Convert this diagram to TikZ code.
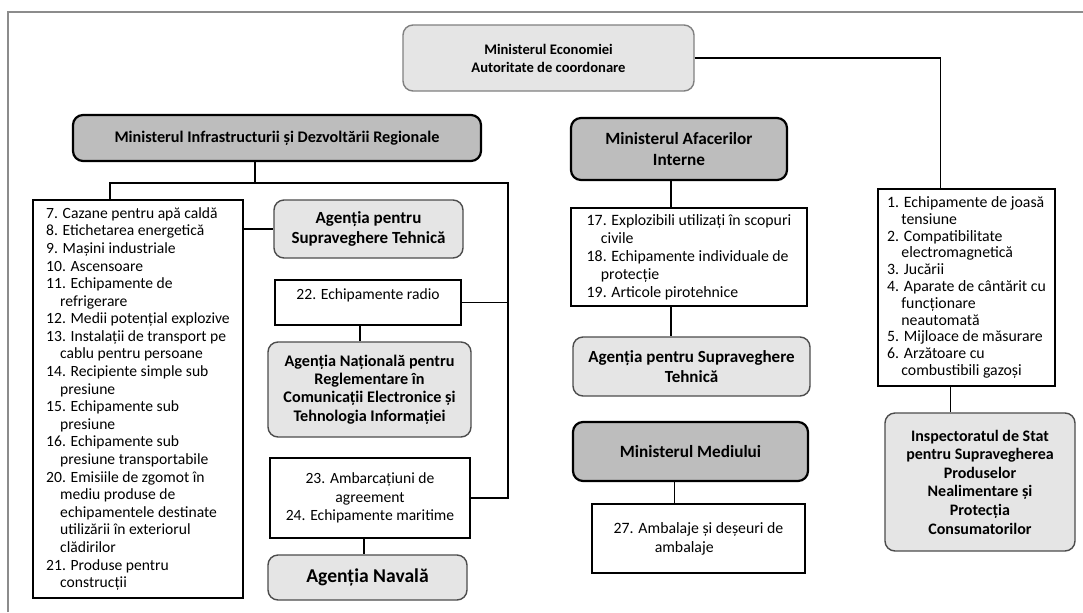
\documentclass[tikz,border=0pt]{standalone}
\usepackage{fontspec}
\setmainfont{Carlito}
\newcommand{\indt}{\hspace*{0.9em}}

\begin{document}
\begin{tikzpicture}[x=0.5pt, y=-0.5pt, line width=0.7pt]
    \tikzstyle{agency}=[draw=black!70, fill=black!10, rounded corners=5pt, align=center, inner sep=2pt, font=\fontsize{8.5}{10}\selectfont\bfseries]
    \tikzstyle{ministry}=[draw=black, line width=1.1pt, fill=black!26, rounded corners=5pt, align=center, inner sep=2pt, font=\fontsize{8.6}{10.4}\selectfont\bfseries]
    \tikzstyle{list}=[draw=black, line width=0.9pt, fill=white, align=left, inner sep=3pt, font=\fontsize{7.8}{8.8}\selectfont]
    \tikzstyle{link}=[draw=black, line width=0.7pt]
    \useasboundingbox (0,0) rectangle (1083,612);
    % page frame of the scan
    \draw[black!45, line width=0.6pt] (8,612) -- (8,12) -- (1083,12);

    % top
    \node[agency, draw=black!50, minimum width=145.5pt, minimum height=33pt, font=\fontsize{7.3}{9}\selectfont\bfseries] (ME) at (548.5,58) {Ministerul Economiei\\Autoritate de coordonare};
    \node[ministry, minimum width=204pt, minimum height=23pt, font=\fontsize{8.1}{9}\selectfont\bfseries] (MIDR) at (277,138) {Ministerul Infrastructurii și Dezvoltării Regionale};
    \node[ministry, minimum width=108pt, minimum height=31pt] (MAI) at (679,149) {Ministerul Afacerilor\\Interne};

    % left branch
    \node[list, minimum width=105pt, minimum height=199pt] (L) at (138,399) {7. Cazane pentru apă caldă\\
      8. Etichetarea energetică\\
      9. Mașini industriale\\
      10. Ascensoare\\
      11. Echipamente de\\\indt refrigerare\\
      12. Medii potențial explozive\\
      13. Instalații de transport pe\\\indt cablu pentru persoane\\
      14. Recipiente simple sub\\\indt presiune\\
      15. Echipamente sub\\\indt presiune\\
      16. Echipamente sub\\\indt presiune transportabile\\
      20. Emisiile de zgomot în\\\indt mediu produse de\\\indt echipamentele destinate\\\indt utilizării în exteriorul\\\indt clădirilor\\
      21. Produse pentru\\\indt construcții};
    \node[agency, minimum width=94.5pt, minimum height=29pt] (AST1) at (368.5,229) {Agenția pentru\\Supraveghere Tehnică};
    \node[list, align=center, minimum width=93pt, minimum height=22.5pt] (R22) at (368,302.5) {22. Echipamente radio\\~};
    \node[agency, minimum width=101.5pt, minimum height=47.5pt, font=\fontsize{8.1}{9.2}\selectfont\bfseries] (ANR) at (369.5,389.5) {Agenția Națională pentru\\Reglementare în\\Comunicații Electronice și\\Tehnologia Informației};
    \node[list, align=center, minimum width=100pt, minimum height=40pt, font=\fontsize{7.8}{9.4}\selectfont] (R23) at (370,498) {23. Ambarcațiuni de\\agreement\\24. Echipamente maritime};
    \node[agency, minimum width=99.5pt, minimum height=22.5pt, font=\fontsize{9.8}{11}\selectfont\bfseries] (NAV) at (367.5,577.5) {Agenția Navală};

    % middle branch
    \node[list, minimum width=118pt, minimum height=48pt, font=\fontsize{7.9}{9}\selectfont] (M17) at (689,257) {17. Explozibili utilizați în scopuri\\\indt civile\\
      18. Echipamente individuale de\\\indt protecție\\
      19. Articole pirotehnice};
    \node[agency, minimum width=118.5pt, minimum height=29.5pt] (AST2) at (691.5,366.5) {Agenția pentru Supraveghere\\Tehnică};
    \node[ministry, minimum width=117.5pt, minimum height=29.5pt] (MM) at (690.5,451.5) {Ministerul Mediului};
    \node[list, minimum width=106.5pt, minimum height=34.5pt, font=\fontsize{7.9}{9.6}\selectfont] (R27) at (698.5,538.5) {27. Ambalaje și deșeuri de\\\hspace*{2.6em}ambalaje};

    % right branch
    \node[list, minimum width=88.5pt, minimum height=98.5pt, font=\fontsize{7.9}{8.4}\selectfont] (R1) at (966.5,287.5) {1. Echipamente de joasă\\\indt tensiune\\
      2. Compatibilitate\\\indt electromagnetică\\
      3. Jucării\\
      4. Aparate de cântărit cu\\\indt funcționare\\\indt neautomată\\
      5. Mijloace de măsurare\\
      6. Arzătoare cu\\\indt combustibili gazoși};
    \node[agency, minimum width=95pt, minimum height=69pt, font=\fontsize{8}{9.3}\selectfont\bfseries] (ISSP) at (980,482) {Inspectoratul de Stat\\pentru Supravegherea\\Produselor\\Nealimentare și\\Protecția\\Consumatorilor};

    % connectors
    \coordinate (busL) at (110,183);
    \coordinate (busM) at (255,183);
    \coordinate (busR) at (508,183);
    \draw[link] (ME.east) -| ([xshift=-13pt]R1.north);
    \draw[link] (busM |- MIDR.south) -- (busM);
    \draw[link] (L.north -| busL) -- (busL) -- (busR) |- (R23.east);
    \draw[link] (R22.east) -- (R22.east -| busR);
    \draw[link] (L.east |- AST1.west) -- (AST1.west);
    \draw[link] ([xshift=-4pt]R22.south) -- ([xshift=-4pt]R22.south |- ANR.north);
    \draw[link] ([xshift=-3pt]R23.south) -- ([xshift=-3pt]R23.south |- NAV.north);
    \draw[link] ([xshift=-4pt]MAI.south) -- ([xshift=-4pt]MAI.south |- M17.north);
    \draw[link] ([xshift=-9pt]M17.south) -- ([xshift=-9pt]M17.south |- AST2.north);
    \draw[link] ([xshift=-8pt]MM.south) -- ([xshift=-8pt]MM.south |- R27.north);
    \draw[link] ([xshift=-8pt]R1.south) -- ([xshift=-8pt]R1.south |- ISSP.north);
\end{tikzpicture}
\end{document}
